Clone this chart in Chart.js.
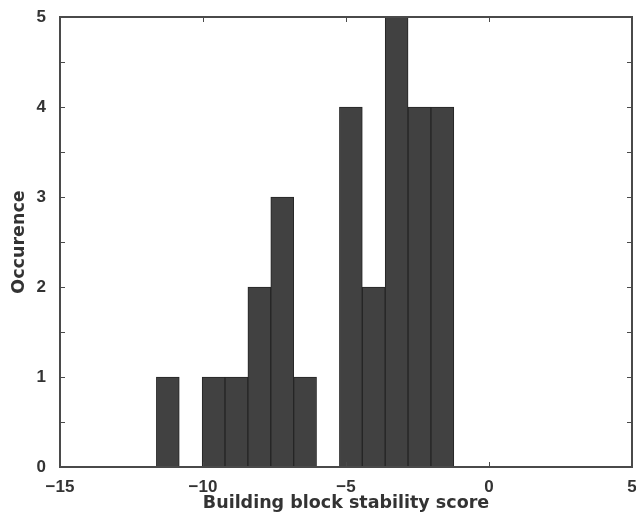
<!DOCTYPE html>
<html>
<head>
<meta charset="utf-8">
<script src="https://cdn.jsdelivr.net/npm/chart.js@4.4.1/dist/chart.umd.min.js"></script>
<style>
  html, body { margin: 0; padding: 0; background: #fff; }
  #wrap { width: 636px; height: 514px; }
</style>
</head>
<body>
<div id="wrap"><canvas id="histChart" width="636" height="514"></canvas></div>
<script>
// histogram bins (centre of each 0.8 wide bin) and their counts
const binCenters = [-11.23, -10.43, -9.63, -8.83, -8.03, -7.23, -6.43, -5.63, -4.83, -4.03, -3.23, -2.43, -1.63];
const counts     = [1, 0, 1, 1, 2, 3, 1, 0, 4, 2, 5, 4, 4];
const xTicks = [-15, -10, -5, 0, 5];
const yTicks = [0, 1, 2, 3, 4, 5];
const yMinor = [0.5, 1, 1.5, 2, 2.5, 3, 3.5, 4, 4.5];

const frameColor = '#4a4a4a';
const tickFont = { family: 'Liberation Sans', size: 17, weight: 'bold' };
const titleFont = { family: 'DejaVu Sans', size: 17.5, weight: 'bold' };

// box round the plot + small inward ticks
const framePlugin = {
  id: 'frame',
  afterDraw(chart) {
    const c = chart.ctx, a = chart.chartArea;
    const xs = chart.scales.x, ys = chart.scales.y;
    c.save();
    c.strokeStyle = frameColor;
    c.lineWidth = 2;
    c.strokeRect(a.left, a.top, a.right - a.left, a.bottom - a.top);
    c.lineWidth = 1;
    c.beginPath();
    yMinor.forEach(v => {
      const py = Math.round(ys.getPixelForValue(v)) + 0.5;
      c.moveTo(a.left, py); c.lineTo(a.left + 5, py);
      c.moveTo(a.right, py); c.lineTo(a.right - 5, py);
    });
    xTicks.slice(1, -1).forEach(v => {
      const px = Math.round(xs.getPixelForValue(v)) + 0.5;
      c.moveTo(px, a.bottom); c.lineTo(px, a.bottom - 5);
      c.moveTo(px, a.top); c.lineTo(px, a.top + 5);
    });
    c.stroke();
    c.restore();
  }
};

const ctx = document.getElementById('histChart').getContext('2d');

const chart = new Chart(ctx, {
  type: 'bar',
  data: {
    datasets: [{
      label: 'Occurence',
      data: binCenters.map((x, i) => ({ x: x, y: counts[i] })),
      backgroundColor: '#414141',
      borderColor: '#252525',
      borderWidth: 1,
      borderSkipped: false,
      barPercentage: 1,
      categoryPercentage: 1
    }]
  },
  plugins: [framePlugin],
  options: {
    responsive: false,
    animation: false,
    devicePixelRatio: 1,
    layout: { autoPadding: false, padding: { top: 17, right: 4, left: 0, bottom: 0 } },
    plugins: { legend: { display: false }, tooltip: { enabled: false } },
    scales: {
      x: {
        type: 'linear',
        offset: false,
        min: -15,
        max: 5,
        afterFit(scale) {
          scale.height = 47;
          scale.paddingLeft = 0;
          scale.paddingRight = 0;
        },
        afterBuildTicks(scale) { scale.ticks = xTicks.map(v => ({ value: v })); },
        grid: { display: false, drawTicks: false, offset: false },
        border: { display: false },
        ticks: {
          color: '#333',
          font: tickFont,
          padding: 10,
          maxRotation: 0,
          callback: v => String(v).replace('-', '\u2212')
        },
        title: {
          display: true,
          text: 'Building block stability score',
          color: '#333',
          font: titleFont,
          padding: { top: 0, bottom: 0 }
        }
      },
      y: {
        min: 0,
        max: 5,
        afterFit(scale) {
          scale.width = 60;
          scale.paddingTop = 0;
          scale.paddingBottom = 0;
        },
        afterBuildTicks(scale) { scale.ticks = yTicks.map(v => ({ value: v })); },
        grid: { display: false, drawTicks: false },
        border: { display: false },
        ticks: { color: '#333', font: tickFont, padding: 14 },
        title: {
          display: true,
          text: 'Occurence',
          color: '#333',
          font: titleFont,
          padding: { top: 9, bottom: 0 }
        }
      }
    }
  }
});
</script>
</body>
</html>
